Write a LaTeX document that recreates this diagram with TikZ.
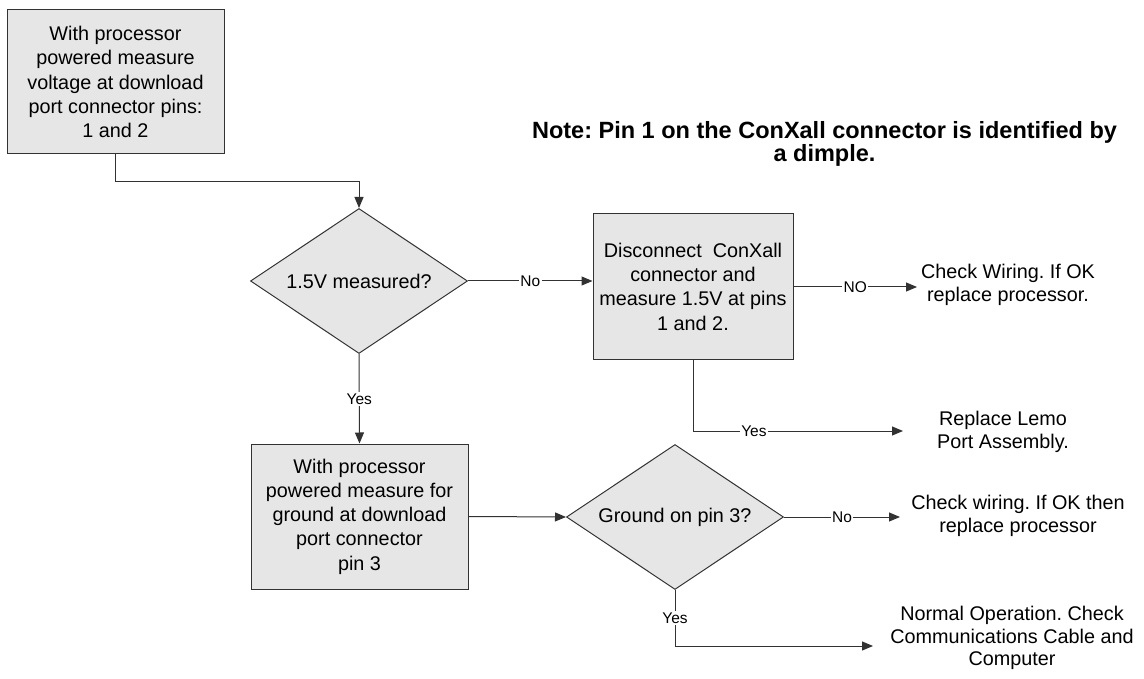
\documentclass[tikz,border=0pt]{standalone}
\usepackage{fontspec}
\setmainfont{Liberation Sans}
\usetikzlibrary{shapes.geometric,arrows.meta}
\definecolor{boxfill}{RGB}{230,230,230}
\definecolor{linec}{RGB}{50,50,50}
\newcommand\mainfnt{\fontsize{19.8}{24.3}\selectfont}
\newcommand\freefnt{\fontsize{19.8}{22.5}\selectfont}
\newcommand\lblfnt{\fontsize{15.5}{18}\selectfont}
\newcommand\notefnt{\fontsize{23.5}{23}\selectfont\bfseries}
\frenchspacing
\begin{document}
\frenchspacing
\begin{tikzpicture}[x=1pt,y=-1pt,
  procbox/.style={draw=linec, fill=boxfill, line width=1pt, align=center,
    inner sep=0pt, font=\mainfnt},
  decbox/.style={diamond, aspect=1.5, draw=linec, fill=boxfill, line width=1pt,
    align=center, inner sep=1pt, minimum width=217pt, minimum height=145pt, font=\mainfnt},
  freetext/.style={align=center, inner sep=0pt, font=\freefnt},
  lbl/.style={fill=white, inner sep=1.5pt, font=\lblfnt},
  conn/.style={draw=linec, line width=1pt},
  arr/.style={conn, -{Triangle[length=11pt,width=9pt]}}
]
\useasboundingbox (0,0) rectangle (1144,679);

% nodes
\node[procbox, minimum width=217pt, minimum height=144pt] (b1) at (115.5,82)
  {With processor\\powered measure\\voltage at download\\port connector pins:\\1 and 2};
\node[decbox] (d1) at (359,281) {1.5V measured?};
\node[procbox, minimum width=200pt, minimum height=145pt] (b2) at (693,286.5)
  {Disconnect\ \ ConXall\\connector and\\measure 1.5V at pins\\1 and 2.};
\node[procbox, minimum width=217pt, minimum height=145pt] (b3) at (359.5,516.5)
  {With processor\\powered measure for\\ground at download\\port connector\\pin 3};
\node[decbox] (d2) at (675,517) {Ground on pin 3?};

\node[freetext] (r1) at (1008,285) {Check Wiring. If OK\\replace processor.};
\node[freetext] (r2) at (1003,432) {Replace Lemo\\Port Assembly.};
\node[freetext] (r3) at (1018,516) {Check wiring. If OK then\\replace processor};
\node[freetext] (r4) at (1012,638) {Normal Operation. Check\\Communications Cable and\\Computer};
\node[align=center, inner sep=0pt, font=\notefnt] (note) at (824.5,144)
  {Note: Pin 1 on the ConXall connector is identified by\\a dimple.};

% coordinates for free ends
\coordinate (c1) at (359,182);
\coordinate (t1) at (917,287);
\coordinate (t2) at (903,431);
\coordinate (t3) at (900,517);
\coordinate (t4) at (873,646);

% connectors
\draw[arr] (b1.south) |- (c1) -- (d1.north);
\draw[arr] (d1.east) -- node[lbl] {No} (d1.east -| b2.west);
\draw[arr] (d1.south) -- node[lbl] {Yes} (b3.north);
\draw[arr] (b2.east |- t1) -- node[lbl] {NO} (t1);
\draw[arr] (b2.south) |- node[lbl, pos=0.645] {Yes} (t2);
\draw[arr] (b3.east) -- (d2.west);
\draw[arr] (d2.east) -- node[lbl] {No} (t3);
\draw[arr] (d2.south) |- node[lbl, pos=0.25] {Yes} (t4);
\end{tikzpicture}
\end{document}
